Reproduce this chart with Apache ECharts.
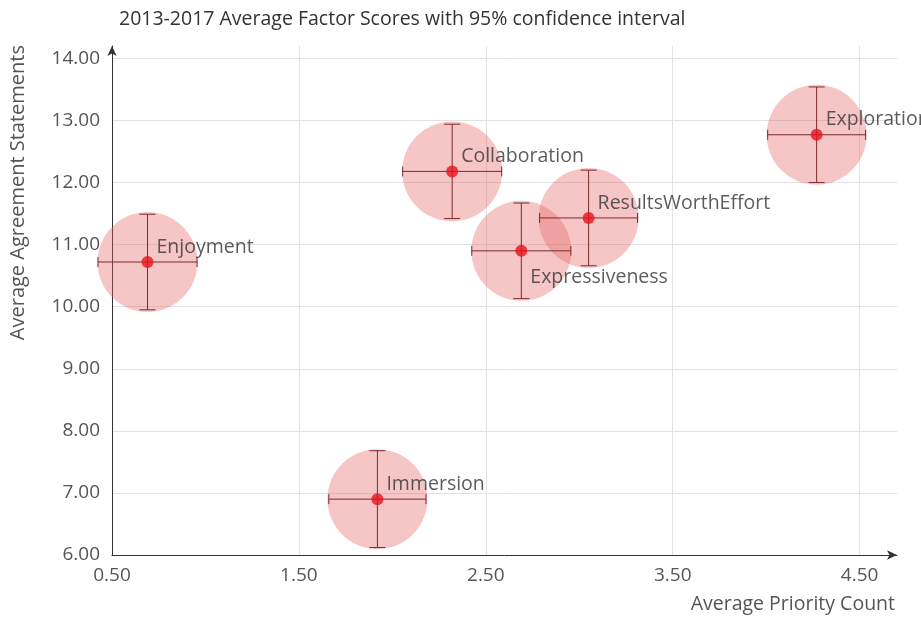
<!DOCTYPE html>
<html lang="en">
<head>
<meta charset="UTF-8">
<title>Average Factor Scores</title>
<script src="https://cdn.jsdelivr.net/npm/echarts@6/dist/echarts.min.js"></script>
<style>
    html, body { margin: 0; padding: 0; background: #fff; }
    #chart { width: 921px; height: 620px; }
</style>
</head>
<body>
<div id="chart"></div>
<script>
    // factors and their mean scores
    var factors = ['Enjoyment', 'Immersion', 'Collaboration', 'Expressiveness', 'ResultsWorthEffort', 'Exploration'];
    var priorityCount = [0.69, 1.92, 2.32, 2.69, 3.05, 4.27];
    var agreement = [10.72, 6.90, 12.18, 10.90, 11.43, 12.77];
    // 95% confidence half widths
    var priorityCI = [0.265, 0.26, 0.265, 0.265, 0.262, 0.262];
    var agreementCI = [0.77, 0.78, 0.76, 0.77, 0.77, 0.77];

    var xTicks = [0.5, 1.5, 2.5, 3.5, 4.5];
    var yTicks = [6, 7, 8, 9, 10, 11, 12, 13, 14];

    var font = '"Open Sans", "DejaVu Sans", sans-serif';

    var pointData = [];
    var barData = [];
    for (var i = 0; i < factors.length; i++) {
        var below = factors[i] === 'Expressiveness';
        pointData.push({
            name: factors[i],
            value: [priorityCount[i], agreement[i]],
            label: { offset: below ? [0, 27] : [0, -15] }
        });
        barData.push([priorityCount[i], agreement[i], priorityCI[i], agreementCI[i]]);
    }

    function renderErrorBars(params, api) {
        var x = api.value(0), y = api.value(1), dx = api.value(2), dy = api.value(3);
        var c = api.coord([x, y]);
        var l = api.coord([x - dx, y]);
        var r = api.coord([x + dx, y]);
        var t = api.coord([x, y + dy]);
        var b = api.coord([x, y - dy]);
        var hc = 5, vc = 8;
        var st = { stroke: '#7a2a2a', lineWidth: 1 };
        return {
            type: 'group',
            children: [
                { type: 'line', shape: { x1: l[0], y1: c[1], x2: r[0], y2: c[1] }, style: st },
                { type: 'line', shape: { x1: l[0], y1: c[1] - hc, x2: l[0], y2: c[1] + hc }, style: st },
                { type: 'line', shape: { x1: r[0], y1: c[1] - hc, x2: r[0], y2: c[1] + hc }, style: st },
                { type: 'line', shape: { x1: c[0], y1: t[1], x2: c[0], y2: b[1] }, style: st },
                { type: 'line', shape: { x1: c[0] - vc, y1: t[1], x2: c[0] + vc, y2: t[1] }, style: st },
                { type: 'line', shape: { x1: c[0] - vc, y1: b[1], x2: c[0] + vc, y2: b[1] }, style: st }
            ]
        };
    }

    function tickFormatter(ticks) {
        return function (v) {
            return ticks.indexOf(Math.round(v * 100) / 100) >= 0 ? v.toFixed(2) : '';
        };
    }

    var chart = echarts.init(document.getElementById('chart'));

    var option = {
        backgroundColor: '#fff',
        animation: false,
        title: {
            text: '2013-2017 Average Factor Scores with 95% confidence interval',
            left: 114,
            top: 4,
            textStyle: { fontFamily: font, fontSize: 19.5, fontWeight: 'normal', color: '#333' }
        },
        grid: { left: 112, right: 24, top: 46, bottom: 65 },
        xAxis: {
            type: 'value',
            min: xTicks[0],
            max: 4.7,
            interval: xTicks[1] - xTicks[0],
            axisLine: {
                show: true, onZero: false,
                symbol: ['none', 'arrow'], symbolSize: [7, 10],
                lineStyle: { color: '#333', width: 1 }
            },
            axisTick: { show: false },
            axisLabel: {
                margin: 11,
                color: '#555', fontFamily: font, fontSize: 19,
                formatter: tickFormatter(xTicks)
            },
            splitLine: { show: true, showMaxLine: false, lineStyle: { color: '#e2e2e2' } }
        },
        yAxis: {
            type: 'value',
            min: yTicks[0],
            max: 14.2,
            interval: yTicks[1] - yTicks[0],
            axisLine: {
                show: true, onZero: false,
                symbol: ['none', 'arrow'], symbolSize: [7, 10],
                lineStyle: { color: '#333', width: 1 }
            },
            axisTick: { show: false },
            axisLabel: {
                margin: 12,
                color: '#555', fontFamily: font, fontSize: 19,
                formatter: tickFormatter(yTicks)
            },
            splitLine: { show: true, showMaxLine: false, lineStyle: { color: '#e2e2e2' } }
        },
        graphic: [
            {
                type: 'text', left: 8, top: 45,
                rotation: Math.PI / 2,
                style: {
                    text: 'Average Agreement Statements',
                    fontFamily: font, fontSize: 20, fill: '#555'
                }
            },
            {
                type: 'text', right: 26, top: 594,
                style: {
                    text: 'Average Priority Count',
                    fontFamily: font, fontSize: 19.5, fill: '#555'
                }
            }
        ],
        series: [
            {
                name: 'interval',
                type: 'scatter',
                symbolSize: 100,
                silent: true,
                itemStyle: { color: 'rgba(231, 97, 97, 0.45)' },
                data: pointData.map(function (d) { return d.value; }),
                z: 2
            },
            {
                name: 'errors',
                type: 'custom',
                renderItem: renderErrorBars,
                encode: { x: 0, y: 1 },
                data: barData,
                silent: true,
                z: 3
            },
            {
                name: 'mean',
                type: 'scatter',
                symbolSize: 12,
                itemStyle: { color: '#e8121c' },
                label: {
                    show: true,
                    position: 'right',
                    distance: 3,
                    formatter: '{b}',
                    color: '#333', fontFamily: font, fontSize: 19.5
                },
                data: pointData,
                z: 4
            }
        ]
    };

    chart.setOption(option);
</script>
</body>
</html>
